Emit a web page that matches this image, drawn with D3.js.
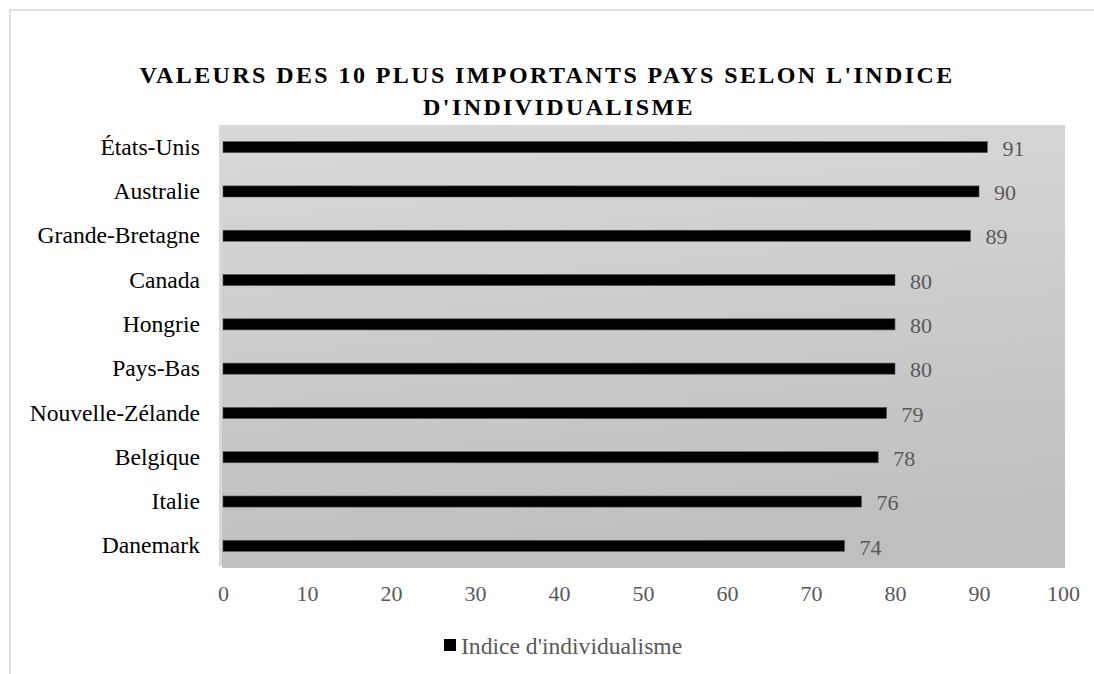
<!DOCTYPE html>
<html>
<head>
<meta charset="utf-8">
<script src="https://cdn.jsdelivr.net/npm/d3@7"></script>
<style>
  html, body { margin: 0; padding: 0; background: #ffffff; }
  svg { display: block; }
  svg text { font-family: "Liberation Serif", "Times New Roman", Tinos, "DejaVu Serif", serif; }
</style>
</head>
<body>
<svg id="chart" width="1094" height="674"></svg>
<script>
const categories = ["États-Unis", "Australie", "Grande-Bretagne", "Canada", "Hongrie", "Pays-Bas", "Nouvelle-Zélande", "Belgique", "Italie", "Danemark"];
const values = [91, 90, 89, 80, 80, 80, 79, 78, 76, 74];
const tickValues = [0, 10, 20, 30, 40, 50, 60, 70, 80, 90, 100];
const titleLines = ["VALEURS DES 10 PLUS IMPORTANTS PAYS SELON L'INDICE", "D'INDIVIDUALISME"];
const seriesName = "Indice d'individualisme";

const svg = d3.select("#chart");
const font = '"Liberation Serif", "Times New Roman", Tinos, "DejaVu Serif", serif';

// outer border
svg.append("rect").attr("x", 10).attr("y", 10).attr("width", 1200).attr("height", 800)
  .attr("fill", "#ffffff").attr("stroke", "#d9d9d9").attr("stroke-width", 1.5);

const plot = { left: 222, right: 1065, top: 125, bottom: 568 };

const defs = svg.append("defs");
const grad = defs.append("linearGradient").attr("id", "bg").attr("x1", "0").attr("y1", "0").attr("x2", "0.15").attr("y2", "1");
grad.append("stop").attr("offset", "0").attr("stop-color", "#d9d9d9");
grad.append("stop").attr("offset", "1").attr("stop-color", "#bfbfbf");

svg.append("rect").attr("x", plot.left).attr("y", plot.top)
  .attr("width", plot.right - plot.left).attr("height", plot.bottom - plot.top)
  .attr("fill", "url(#bg)");

// vertical axis line
svg.append("line").attr("x1", 220.5).attr("x2", 220.5).attr("y1", plot.top).attr("y2", plot.bottom - 2)
  .attr("stroke", "#d9d9d9").attr("stroke-width", 3);

const x = d3.scaleLinear().domain([0, 100]).range([223, 1063]);
const y = d3.scaleBand().domain(categories).range([plot.top, plot.bottom]).paddingInner(0.75).paddingOuter(0.375);

// title (first line centred including a trailing space, as in the original wrap)
svg.append("g").selectAll("text").data(titleLines).join("text")
  .attr("x", (d, i) => i === 0 ? 547 : 559).attr("y", (d, i) => 83 + i * 32)
  .attr("text-anchor", "middle")
  .style("font-family", font).style("font-weight", "bold").style("font-size", "24px")
  .style("letter-spacing", "2.4px")
  .attr("fill", "#000000")
  .text(d => d);

// bars
svg.append("g").selectAll("rect").data(values).join("rect")
  .attr("x", x(0)).attr("y", (d, i) => y(categories[i]))
  .attr("width", d => x(d) - x(0)).attr("height", y.bandwidth())
  .attr("fill", "#000000").attr("stroke", "#555555").attr("stroke-width", 0.6);

// value labels
svg.append("g").selectAll("text").data(values).join("text")
  .attr("x", d => x(d) + 15)
  .attr("y", (d, i) => y(categories[i]) + y.bandwidth() / 2 + 1)
  .attr("dy", "0.35em")
  .style("font-family", font).style("font-size", "22px").attr("fill", "#595959")
  .text(d => d);

// category axis
const yAxis = svg.append("g").attr("transform", "translate(200,0)")
  .call(d3.axisLeft(y).tickSize(0).tickPadding(0));
yAxis.attr("font-family", null).attr("font-size", null);
yAxis.select(".domain").remove();
yAxis.selectAll("text").style("font-family", font).style("font-size", "23.6px").attr("fill", "#000000")
  .attr("dy", "0.32em");

// value axis
const xAxis = svg.append("g").attr("transform", "translate(0," + plot.bottom + ")")
  .call(d3.axisBottom(x).tickValues(tickValues).tickSize(0).tickPadding(17).tickFormat(d3.format("d")));
xAxis.attr("font-family", null).attr("font-size", null);
xAxis.select(".domain").remove();
xAxis.selectAll("text").style("font-family", font).style("font-size", "22px").attr("fill", "#595959");

// legend
const legend = svg.append("g");
legend.append("rect").attr("x", 444).attr("y", 639).attr("width", 12).attr("height", 12).attr("fill", "#000000");
legend.append("text").attr("x", 461).attr("y", 646).attr("dy", "0.35em")
  .style("font-family", font).style("font-size", "23.6px").attr("fill", "#595959")
  .text(seriesName);
</script>
</body>
</html>
